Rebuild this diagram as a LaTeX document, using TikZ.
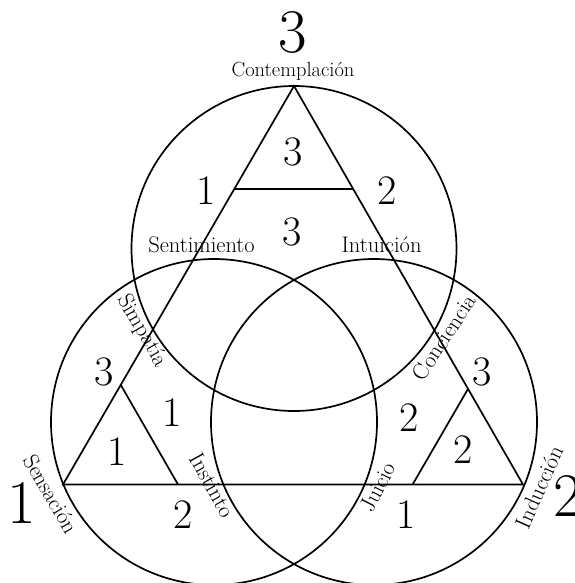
\documentclass[tikz,border=0pt]{standalone}
\usetikzlibrary{calc}
\begin{document}
\begin{tikzpicture}[x=1pt,y=-1pt,line width=1.7pt,
  lbl/.style={inner sep=0pt,font=\fontsize{22.5}{26}\selectfont},
  toplbl/.style={inner sep=0pt,font=\fontsize{20.5}{24}\selectfont},
  num/.style={inner sep=0pt,font=\fontsize{42}{46}\selectfont},
  big/.style={inner sep=0pt,font=\fontsize{62}{66}\selectfont}]
\useasboundingbox (0,0) rectangle (574,583);
% circle centres
\coordinate (ct) at (294,248.5);
\coordinate (cl) at (214,422);
\coordinate (cr) at (374,422);
\draw (ct) circle[radius=162.5];
\draw (cl) circle[radius=163];
\draw (cr) circle[radius=163];
% triangle
\coordinate (A) at (294,86);
\coordinate (B) at (63,484.5);
\coordinate (C) at (523,484.5);
\draw (A) -- (B) -- (C) -- cycle;
\coordinate (t1) at ($(A)!0.258!(B)$);
\coordinate (t2) at ($(A)!0.258!(C)$);
\coordinate (l1) at ($(B)!0.25!(A)$);
\coordinate (l2) at ($(B)!0.25!(C)$);
\coordinate (r1) at ($(C)!0.24!(A)$);
\coordinate (r2) at ($(C)!0.24!(B)$);
\draw (t1) -- (t2);
\draw (l1) -- (l2);
\draw (r1) -- (r2);
% big numbers
\node[big] (n3) at (293,33) {3};
\node[big] (n1) at (22,503) {1};
\node[big] (n2) at (568,496) {2};
% labels
\node[toplbl,anchor=base] (contemp) at (293,77) {Contemplación};
\node[lbl,anchor=base] (sentim) at (201.5,252.5) {Sentimiento};
\node[lbl,anchor=base] (intuic) at (381.5,252.5) {Intuición};
\node[lbl,rotate=-60] (simpat) at (142,331) {Simpatía};
\node[lbl,rotate=57] (concien) at (444,337) {Conciencia};
\node[lbl,rotate=-60] (sensac) at (51,494) {Sensación};
\node[lbl,rotate=-61] (instin) at (212,485) {Instinto};
\node[lbl,rotate=63] (juicio) at (378,487) {Juicio};
\node[lbl,rotate=66] (induc) at (539,487) {Inducción};
% medium numbers
\node[num] (a1) at (293,152) {3};
\node[num] (a2) at (292,232) {3};
\node[num] (a3) at (206,191) {1};
\node[num] (a4) at (387,191) {2};
\node[num] (b1) at (104,372) {3};
\node[num] (b2) at (172,413) {1};
\node[num] (b3) at (117,452) {1};
\node[num] (b4) at (183,515) {2};
\node[num] (c1) at (482,372) {3};
\node[num] (c2) at (409,418) {2};
\node[num] (c3) at (463,450) {2};
\node[num] (c4) at (406,515) {1};
\end{tikzpicture}
\end{document}
